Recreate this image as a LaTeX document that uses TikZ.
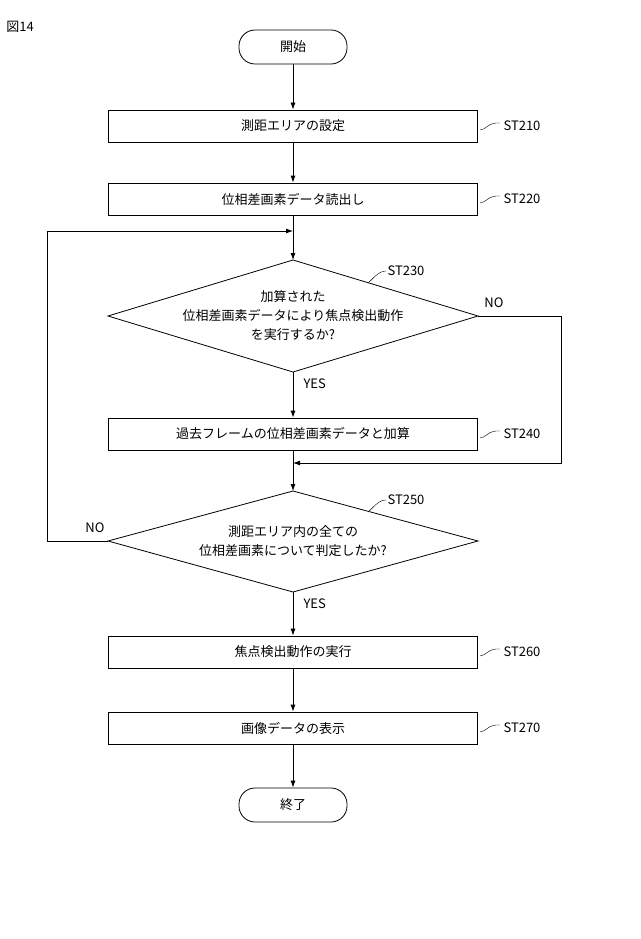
\documentclass[tikz,border=0pt]{standalone}
\usepackage{fontspec}
\setmainfont{Noto Sans CJK JP}
\usetikzlibrary{shapes.geometric,arrows.meta}
\begin{document}
\begin{tikzpicture}[x=1pt,y=-1pt,
  box/.style={draw,thick,minimum width=369pt,minimum height=32pt,font=\fontsize{13}{15}\selectfont},
  term/.style={draw,thick,rounded corners=16pt,minimum width=108pt,minimum height=34pt,font=\fontsize{13}{15}\selectfont},
  dia/.style={draw,thick,diamond,aspect=3.3,inner sep=0pt,font=\fontsize{13}{17}\selectfont,align=center},
  lab/.style={font=\fontsize{13}{15}\selectfont},
  arr/.style={thick,-{Latex[length=7pt,width=5pt]}},
  ln/.style={thick}]
\useasboundingbox (0,0) rectangle (640,939);
\node[lab] (fig) at (20,27) {図14};
\node[term] (start) at (293,47) {開始};
\node[box] (s210) at (293,126) {測距エリアの設定};
\node[box] (s220) at (293,199) {位相差画素データ読出し};
\draw[thick] (108,316) -- (293,260) -- (478,316) -- (293,372) -- cycle;
\coordinate (d1t) at (293,260); \coordinate (d1b) at (293,372);
\coordinate (d1l) at (108,316); \coordinate (d1r) at (478,316);
\node[lab,align=center,font=\fontsize{13}{19}\selectfont] (d1) at (293,316) {加算された\\位相差画素データにより焦点検出動作\\を実行するか?};
\node[box] (s240) at (293,434) {過去フレームの位相差画素データと加算};
\draw[thick] (108,541) -- (293,491) -- (478,541) -- (293,592) -- cycle;
\coordinate (d2t) at (293,491); \coordinate (d2b) at (293,592);
\coordinate (d2l) at (108,541);
\node[lab,align=center,font=\fontsize{13}{19}\selectfont] (d2) at (293,541) {測距エリア内の全ての\\位相差画素について判定したか?};
\node[box] (s260) at (293,652) {焦点検出動作の実行};
\node[box] (s270) at (293,728) {画像データの表示};
\node[term] (end) at (293,805) {終了};
\draw[arr] (start) -- (s210);
\draw[arr] (s210) -- (s220);
\draw[arr] (s220) -- (d1t);
\draw[arr] (d1b) -- (s240);
\draw[arr] (s240) -- (d2t);
\draw[arr] (d2b) -- (s260);
\draw[arr] (s260) -- (s270);
\draw[arr] (s270) -- (end);
\coordinate (j1) at (293,231); \coordinate (j2) at (293,463);
\draw[arr] (d2l) -- (47,541) -- (47,231) -- (j1);
\draw[arr] (d1r) -- (561,316) -- (561,463) -- (j2);
\node[lab,anchor=west] (yes1) at (300,384) {YES};
\node[lab,anchor=west] (yes2) at (300,604) {YES};
\node[lab] (no1) at (494,303) {NO};
\node[lab] (no2) at (95,528) {NO};
\foreach \y/\t in {126/210,199/220,434/240,652/260,728/270}{
  \node[lab,anchor=west] (st\t) at (500,\y) {ST\t};
  \draw[thin] (480,\y+4) .. controls (486,\y+4) and (488,\y-4) .. (500,\y-3);
}
\node[lab,anchor=west] (st230) at (384,271) {ST230};
\draw[thin] (368,283) .. controls (372,280) and (378,271) .. (386,271);
\node[lab,anchor=west] (st250) at (384,500) {ST250};
\draw[thin] (368,512) .. controls (372,509) and (378,500) .. (386,500);
\end{tikzpicture}
\end{document}
